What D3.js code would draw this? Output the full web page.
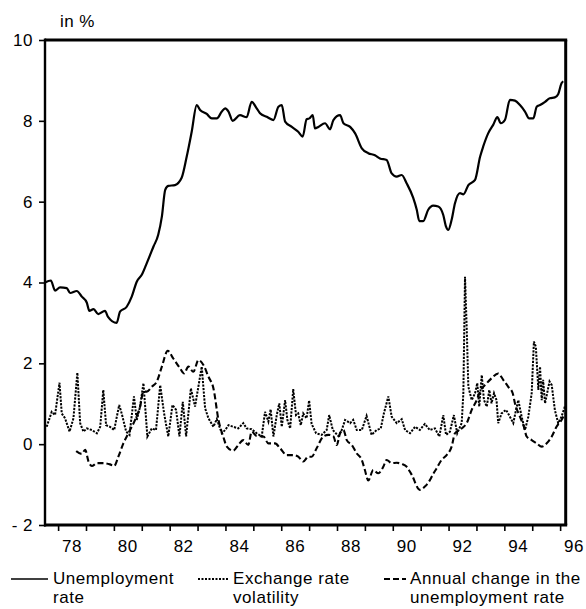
<!DOCTYPE html>
<html><head><meta charset="utf-8">
<script src="https://cdn.jsdelivr.net/npm/d3@7"></script>
<style>body{margin:0;background:#fff}svg{display:block}text{font-family:"Liberation Sans",Arial,Helvetica,sans-serif;fill:#000}</style>
</head><body><svg id="c" width="586" height="609"></svg>
<script>
// Unemployment rate (year, %)
const unemployment = [
[1977.53,4.00],[1977.74,4.05],[1977.89,3.80],[1978.07,3.88],[1978.31,3.86],[1978.43,3.74],[1978.67,3.79],[1978.85,3.65],[1979.03,3.50],[1979.12,3.30],[1979.27,3.34],[1979.44,3.22],[1979.68,3.30],[1979.79,3.15],[1980.10,3.00],[1980.22,3.28],[1980.46,3.40],[1980.64,3.65],[1980.82,4.02],[1981.00,4.19],[1981.18,4.48],[1981.42,4.89],[1981.59,5.18],[1981.72,5.63],[1981.84,6.29],[1981.95,6.39],[1982.19,6.41],[1982.43,6.59],[1982.61,7.11],[1982.79,7.73],[1982.97,8.39],[1983.09,8.27],[1983.33,8.17],[1983.51,8.06],[1983.69,8.06],[1983.87,8.23],[1983.99,8.31],[1984.11,8.23],[1984.26,8.00],[1984.52,8.14],[1984.76,8.09],[1984.94,8.47],[1985.12,8.31],[1985.24,8.19],[1985.48,8.10],[1985.72,8.02],[1985.90,8.35],[1986.02,8.39],[1986.14,7.98],[1986.38,7.85],[1986.61,7.73],[1986.77,7.61],[1986.91,8.04],[1987.01,8.06],[1987.13,8.14],[1987.21,7.81],[1987.33,7.85],[1987.57,7.94],[1987.75,7.79],[1987.87,8.02],[1988.11,8.14],[1988.23,7.94],[1988.47,7.85],[1988.65,7.69],[1988.89,7.32],[1989.12,7.20],[1989.36,7.15],[1989.54,7.07],[1989.78,7.03],[1989.96,6.70],[1990.14,6.62],[1990.32,6.66],[1990.50,6.45],[1990.73,6.10],[1990.86,5.80],[1990.95,5.52],[1991.09,5.52],[1991.27,5.80],[1991.45,5.90],[1991.63,5.88],[1991.81,5.67],[1991.91,5.38],[1991.99,5.30],[1992.11,5.55],[1992.23,5.96],[1992.41,6.21],[1992.53,6.18],[1992.71,6.41],[1992.95,6.54],[1993.13,7.11],[1993.24,7.36],[1993.42,7.69],[1993.60,7.90],[1993.75,8.09],[1993.87,7.94],[1994.02,8.02],[1994.20,8.52],[1994.38,8.50],[1994.56,8.39],[1994.74,8.23],[1994.89,8.06],[1995.04,8.06],[1995.16,8.35],[1995.28,8.39],[1995.46,8.47],[1995.63,8.56],[1995.81,8.58],[1995.93,8.66],[1996.05,8.93],[1996.11,8.98]
];
// Exchange rate volatility (year, %)
const volatility = [
[1977.59,0.43],[1977.77,0.80],[1977.89,0.72],[1978.05,1.52],[1978.13,0.76],[1978.25,0.64],[1978.41,0.31],[1978.55,0.64],[1978.69,1.77],[1978.79,0.52],[1978.91,0.31],[1979.03,0.39],[1979.21,0.35],[1979.39,0.27],[1979.51,0.43],[1979.62,1.34],[1979.72,0.47],[1979.86,0.43],[1980.01,0.35],[1980.19,0.97],[1980.28,0.76],[1980.44,0.31],[1980.56,0.23],[1980.72,1.18],[1980.82,0.60],[1980.94,0.93],[1981.06,1.51],[1981.20,0.19],[1981.36,0.39],[1981.51,0.35],[1981.66,1.46],[1981.80,0.76],[1981.95,0.19],[1982.10,0.97],[1982.23,0.85],[1982.35,0.19],[1982.47,1.05],[1982.59,0.19],[1982.76,1.38],[1982.91,0.93],[1983.15,1.92],[1983.27,0.89],[1983.39,0.64],[1983.57,0.43],[1983.69,0.62],[1983.87,0.27],[1983.99,0.35],[1984.11,0.47],[1984.28,0.43],[1984.46,0.39],[1984.64,0.52],[1984.76,0.39],[1984.94,0.37],[1985.12,0.27],[1985.30,0.19],[1985.42,0.80],[1985.54,0.56],[1985.62,0.86],[1985.72,0.19],[1985.84,0.72],[1985.93,1.01],[1986.02,0.43],[1986.14,1.09],[1986.22,0.60],[1986.32,0.39],[1986.43,1.36],[1986.53,0.72],[1986.61,0.76],[1986.70,0.47],[1986.79,0.76],[1986.91,0.64],[1987.00,1.08],[1987.09,0.50],[1987.25,0.27],[1987.45,0.23],[1987.63,0.35],[1987.72,0.72],[1987.85,0.35],[1988.05,0.20],[1988.17,0.35],[1988.29,0.60],[1988.47,0.52],[1988.58,0.60],[1988.71,0.35],[1988.89,0.35],[1989.06,0.70],[1989.24,0.23],[1989.42,0.35],[1989.57,0.39],[1989.68,0.76],[1989.84,1.18],[1989.96,0.68],[1990.14,0.52],[1990.32,0.62],[1990.44,0.35],[1990.62,0.27],[1990.80,0.43],[1990.97,0.35],[1991.15,0.50],[1991.33,0.35],[1991.51,0.39],[1991.67,0.19],[1991.81,0.72],[1991.91,0.23],[1992.05,0.31],[1992.19,0.72],[1992.31,0.27],[1992.47,0.52],[1992.53,1.26],[1992.59,4.14],[1992.65,2.90],[1992.71,1.42],[1992.83,1.09],[1992.95,1.26],[1993.03,1.51],[1993.10,0.93],[1993.19,1.71],[1993.27,1.09],[1993.37,0.93],[1993.46,1.34],[1993.54,1.01],[1993.63,1.26],[1993.72,1.09],[1993.78,0.52],[1993.90,0.76],[1994.06,0.85],[1994.20,0.68],[1994.32,0.52],[1994.42,0.85],[1994.50,1.09],[1994.62,0.68],[1994.74,0.35],[1994.86,0.68],[1994.98,1.26],[1995.06,2.54],[1995.13,2.41],[1995.22,1.34],[1995.28,1.92],[1995.34,1.09],[1995.39,1.59],[1995.46,1.01],[1995.62,1.55],[1995.70,1.46],[1995.81,0.85],[1995.93,0.52],[1996.05,0.68],[1996.17,0.93]
];
// Annual change in the unemployment rate (year, pp)
const annualChange = [
[1978.65,-0.17],[1978.85,-0.24],[1978.97,-0.14],[1979.09,-0.43],[1979.21,-0.54],[1979.39,-0.47],[1979.62,-0.47],[1979.86,-0.50],[1980.01,-0.54],[1980.16,-0.31],[1980.34,0.02],[1980.52,0.27],[1980.76,0.60],[1980.94,0.93],[1981.06,1.30],[1981.18,1.30],[1981.36,1.42],[1981.54,1.55],[1981.72,1.92],[1981.93,2.31],[1982.13,2.12],[1982.37,1.88],[1982.52,1.75],[1982.67,1.92],[1982.85,1.79],[1983.03,2.08],[1983.21,1.96],[1983.39,1.67],[1983.57,1.38],[1983.75,0.60],[1983.92,0.19],[1984.05,-0.06],[1984.28,-0.16],[1984.46,-0.02],[1984.64,0.10],[1984.82,-0.02],[1984.94,0.31],[1985.12,0.20],[1985.36,0.19],[1985.54,0.02],[1985.78,0.02],[1985.96,-0.10],[1986.20,-0.27],[1986.43,-0.27],[1986.61,-0.31],[1986.79,-0.43],[1986.97,-0.31],[1987.09,-0.31],[1987.27,-0.10],[1987.51,0.19],[1987.69,0.23],[1987.87,0.19],[1987.99,-0.02],[1988.11,0.27],[1988.23,0.35],[1988.35,0.10],[1988.53,-0.02],[1988.71,-0.23],[1988.89,-0.39],[1989.00,-0.64],[1989.12,-0.90],[1989.30,-0.64],[1989.48,-0.72],[1989.66,-0.56],[1989.78,-0.39],[1989.96,-0.47],[1990.14,-0.46],[1990.32,-0.49],[1990.50,-0.56],[1990.68,-0.76],[1990.97,-1.13],[1991.15,-1.05],[1991.33,-0.89],[1991.43,-0.76],[1991.57,-0.60],[1991.75,-0.39],[1991.93,-0.27],[1992.11,-0.06],[1992.23,0.27],[1992.47,0.39],[1992.65,0.52],[1992.83,0.85],[1993.01,1.09],[1993.13,1.30],[1993.37,1.51],[1993.54,1.63],[1993.78,1.75],[1993.96,1.59],[1994.14,1.42],[1994.30,1.26],[1994.38,1.01],[1994.56,0.68],[1994.70,0.43],[1994.80,0.19],[1994.98,0.10],[1995.16,0.02],[1995.34,-0.06],[1995.52,0.02],[1995.70,0.19],[1995.87,0.43],[1996.05,0.60],[1996.17,0.76]
];
const yTicks = [10,8,6,4,2,0,-2];
const yTickLabels = ["10","8","6","4","2","0","- 2"];
const xTickYears = d3.range(1978,1997);
const xLabelYears = [1978,1980,1982,1984,1986,1988,1990,1992,1994,1996];
const xLabels = ["78","80","82","84","86","88","90","92","94","96"];
const legendItems = [
  {lines:["Unemployment","rate"], style:"solid"},
  {lines:["Exchange rate","volatility"], style:"dot"},
  {lines:["Annual change in the","unemployment rate"], style:"dash"}
];

const svg = d3.select("#c");
const L=45, R=565.7, T=40, B=525;
const x = d3.scaleLinear().domain([1977.53,1996.2]).range([L,R]);
const y = d3.scaleLinear().domain([-2,10]).range([B,T]);
const smooth = d3.line().x(d=>x(d[0])).y(d=>y(d[1])).curve(d3.curveMonotoneX);
const sharp = d3.line().x(d=>x(d[0])).y(d=>y(d[1]));

const g = svg.append("g");
g.append("path").datum(volatility).attr("d",sharp).attr("fill","none").attr("stroke","#000")
  .attr("stroke-width",2).attr("stroke-dasharray","2.2,1.3");
g.append("path").datum(annualChange).attr("d",smooth).attr("fill","none").attr("stroke","#000")
  .attr("stroke-width",2.1).attr("stroke-dasharray","6,3");
g.append("path").datum(unemployment).attr("d",smooth).attr("fill","none").attr("stroke","#000")
  .attr("stroke-width",2.2).attr("stroke-linejoin","round");

// frame
svg.append("line").attr("x1",L).attr("x2",R+1.5).attr("y1",T).attr("y2",T).attr("stroke","#000").attr("stroke-width",3);
svg.append("line").attr("x1",R).attr("x2",R).attr("y1",T).attr("y2",B).attr("stroke","#000").attr("stroke-width",3);
svg.append("line").attr("x1",L-1).attr("x2",R+1.5).attr("y1",B).attr("y2",B).attr("stroke","#000").attr("stroke-width",3);
svg.append("line").attr("x1",L).attr("x2",L).attr("y1",T-1.5).attr("y2",B+1.5).attr("stroke","#000").attr("stroke-width",2.4);

// y axis ticks
const yAxis = d3.axisLeft(y).tickValues(yTicks).tickSize(6).tickPadding(6)
  .tickFormat((d,i)=>yTickLabels[i]);
const ya = svg.append("g").attr("transform",`translate(${L},0)`).call(yAxis);
ya.select(".domain").remove();
ya.selectAll("line").attr("stroke","#000").attr("stroke-width",1.6);
ya.selectAll("text").attr("font-size",17).attr("letter-spacing",0.5)
  .attr("font-family","'Liberation Sans',Arial,sans-serif").attr("fill","#000");

// x axis ticks
const xa = svg.append("g").attr("transform",`translate(0,${B})`)
  .call(d3.axisBottom(x).tickValues(xTickYears).tickSize(6).tickFormat(""));
xa.select(".domain").remove();
xa.selectAll("line").attr("stroke","#000").attr("stroke-width",1.6);
svg.append("g").selectAll("text").data(xLabelYears).join("text")
  .attr("x",d=>x(d+0.5)).attr("y",552).attr("text-anchor","middle").attr("font-size",17)
  .attr("letter-spacing",0.5).text((d,i)=>xLabels[i]);

svg.append("text").attr("x",60).attr("y",27).attr("font-size",17).attr("letter-spacing",0.4).text("in %");

// legend
const lg = [{x0:11,x1:48,tx:53},{x0:198,x1:228,tx:233},{x0:384,x1:406,tx:410}];
legendItems.forEach((it,i)=>{
  const p = lg[i];
  const ln = svg.append("line").attr("x1",p.x0).attr("x2",p.x1).attr("y1",579).attr("y2",579)
    .attr("stroke","#000").attr("stroke-width",it.style==="solid"?1.4:2);
  if(it.style==="dot") ln.attr("stroke-dasharray","2,1.5");
  if(it.style==="dash") ln.attr("stroke-dasharray","6,3");
  it.lines.forEach((t,j)=>{
    svg.append("text").attr("x",p.tx).attr("y",584+j*19).attr("font-size",17)
      .attr("letter-spacing",0.55).text(t);
  });
});
</script></body></html>
